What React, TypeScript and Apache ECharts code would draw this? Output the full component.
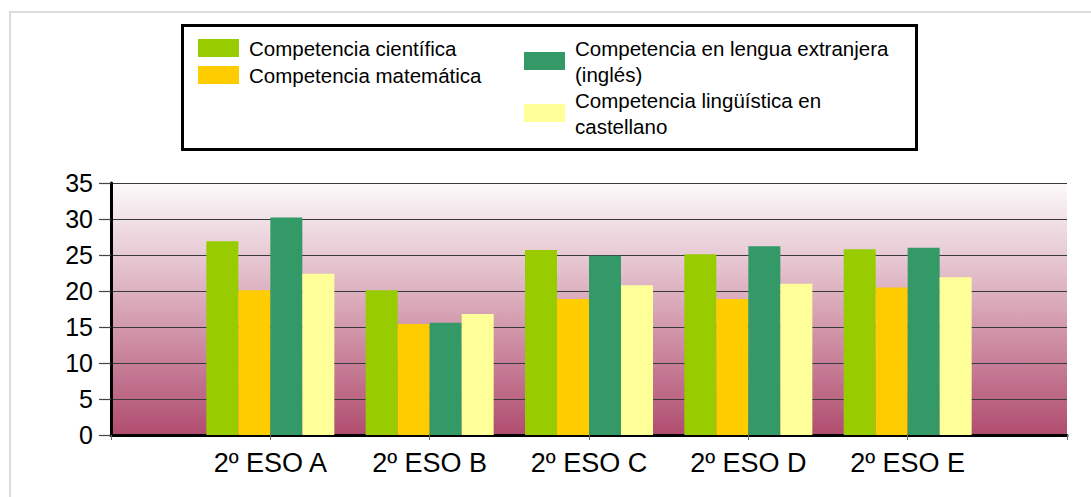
import React, { useEffect, useRef } from "react";
import * as echarts from "echarts";

const categories = ["2º ESO A", "2º ESO B", "2º ESO C", "2º ESO D", "2º ESO E"];
const seriesNames = [
  "Competencia científica",
  "Competencia matemática",
  "Competencia en lengua extranjera (inglés)",
  "Competencia lingüística en castellano",
];
const legendLabels = [
  "Competencia científica",
  "Competencia matemática",
  "Competencia en lengua extranjera\n(inglés)",
  "Competencia lingüística en\ncastellano",
];
const cientifica = [26.9, 20.1, 25.7, 25.1, 25.8];
const matematica = [20.1, 15.4, 18.9, 18.9, 20.5];
const extranjera = [30.2, 15.6, 24.9, 26.2, 26.0];
const castellano = [22.4, 16.8, 20.8, 21.0, 21.9];
const colors = ["#99cc00", "#ffcc00", "#339966", "#ffff99"];
const yTicks = { min: 0, max: 35, interval: 5 };

const FONT = "'Liberation Sans', Arial, sans-serif";

export default function App() {
  const ref = useRef<HTMLDivElement>(null);
  useEffect(() => {
    if (!ref.current) return;
    const chart = echarts.init(ref.current, undefined, { renderer: "svg" });
    const pad = (arr: number[]) => [null, ...arr, null];
    const allValues = [cientifica, matematica, extranjera, castellano];
    const labelMap: Record<string, string> = {};
    seriesNames.forEach((n, i) => (labelMap[n] = legendLabels[i]));
    const legendText = { fontFamily: FONT, fontSize: 20.5, color: "#000", lineHeight: 26, padding: [0, 0, 0, 5] };
    chart.setOption({
      animation: false,
      backgroundColor: "#ffffff",
      textStyle: { fontFamily: FONT },
      color: colors,
      graphic: [
        {
          type: "rect",
          z: 0,
          shape: { x: 10, y: 12, width: 1200, height: 600 },
          style: { fill: "none", stroke: "#dcdcdc", lineWidth: 2 },
        },
        {
          type: "rect",
          z: 0,
          shape: { x: 182.5, y: 25.5, width: 734, height: 124 },
          style: { fill: "#ffffff", stroke: "#000000", lineWidth: 3 },
        },
      ],
      legend: [
        {
          orient: "vertical",
          left: 198,
          top: 35,
          padding: 0,
          itemWidth: 41,
          itemHeight: 18,
          itemGap: 1,
          icon: "rect",
          data: [seriesNames[0], seriesNames[1]],
          formatter: (n: string) => labelMap[n],
          textStyle: legendText,
        },
        {
          orient: "vertical",
          left: 524,
          top: 35,
          padding: 0,
          itemWidth: 41,
          itemHeight: 18,
          itemGap: 0,
          icon: "rect",
          data: [seriesNames[2], seriesNames[3]],
          formatter: (n: string) => labelMap[n],
          textStyle: legendText,
        },
      ],
      grid: {
        left: 111,
        right: 24,
        top: 183,
        bottom: 62,
        show: true,
        borderWidth: 0,
        backgroundColor: new echarts.graphic.LinearGradient(0, 0, 0, 1, [
          { offset: 0, color: "#fcfafb" },
          { offset: 0.5, color: "#d8a5b7" },
          { offset: 1, color: "#b04c6f" },
        ]),
      },
      xAxis: {
        type: "category",
        boundaryGap: false,
        data: ["", ...categories, ""],
        axisLine: { show: true, lineStyle: { color: "#000", width: 3 } },
        axisTick: { show: true, length: 5, lineStyle: { color: "#666", width: 1 } },
        axisLabel: { fontFamily: FONT, fontSize: 27, color: "#000", margin: 14, interval: 0 },
        splitLine: { show: false },
      },
      yAxis: {
        type: "value",
        min: yTicks.min,
        max: yTicks.max,
        interval: yTicks.interval,
        axisLine: { show: true, lineStyle: { color: "#000", width: 3 } },
        axisTick: { show: true, length: 12, lineStyle: { color: "#444", width: 1.2 } },
        axisLabel: { fontFamily: FONT, fontSize: 25, color: "#000", margin: 18 },
        splitLine: { show: true, lineStyle: { color: "#3a3a3a", width: 1.2 } },
      },
      series: seriesNames.map((name, i) => ({
        name,
        type: "bar",
        barWidth: 32,
        barGap: "0%",
        data: pad(allValues[i]),
        itemStyle: { color: colors[i] },
      })),
    });
    return () => chart.dispose();
  }, []);
  return (
    <div
      ref={ref}
      style={{ position: "fixed", left: 0, top: 0, width: 1091, height: 497 }}
    />
  );
}
